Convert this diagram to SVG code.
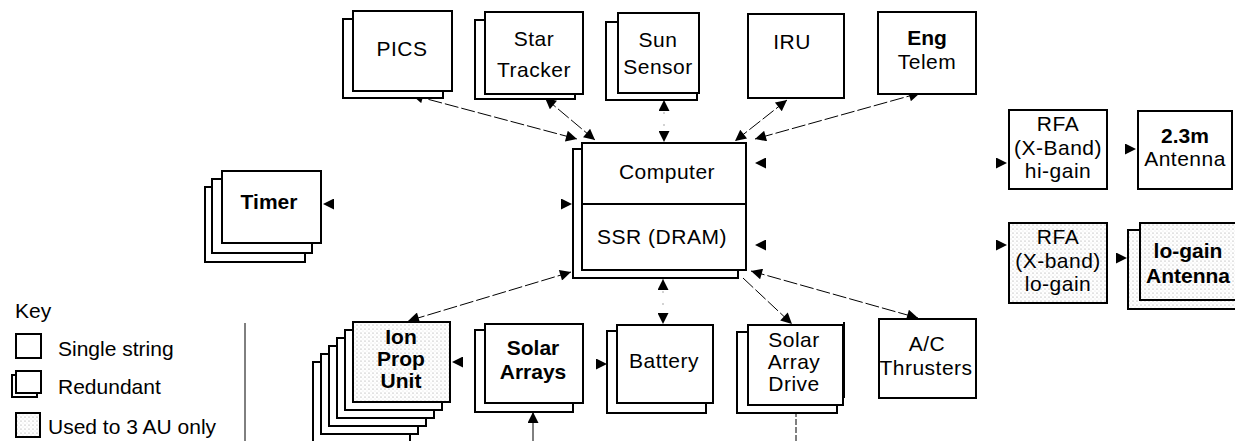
<svg xmlns="http://www.w3.org/2000/svg" width="1235" height="441" viewBox="0 0 1235 441">
<style>
.box{fill:#fff;stroke:#000;stroke-width:2}
.sh{fill:url(#stip);stroke:#000;stroke-width:2}
.t{font-family:"Liberation Sans",Arial,sans-serif;font-size:21px;text-anchor:middle;fill:#000;letter-spacing:0.5px}
.b{font-weight:bold;letter-spacing:0}
.k{font-family:"Liberation Sans",Arial,sans-serif;font-size:21px;fill:#000}
.c{fill:none;stroke:#000;stroke-width:1;stroke-dasharray:14 3}
.f{fill:none;stroke:#000;stroke-width:1;stroke-opacity:0.35;stroke-dasharray:2 10}
.n{fill:none;stroke:none}
.ln{fill:none;stroke:#000;stroke-width:1}
</style>
<defs>
<pattern id="stip" width="4" height="4" patternUnits="userSpaceOnUse">
<rect width="4" height="4" fill="#fff"/>
<circle cx="1" cy="1" r="0.6" fill="#999"/>
<circle cx="3" cy="3" r="0.4" fill="#bbb"/>
</pattern>
<marker id="ah" viewBox="0 0 10 10" refX="10" refY="5" markerWidth="14" markerHeight="11" markerUnits="userSpaceOnUse" orient="auto-start-reverse">
<path d="M0,0 L10,5 L0,10 z" fill="#000"/>
</marker>
</defs>
<rect width="1235" height="441" fill="#fff"/>

<g id="connectors">
<line class="c" x1="412" y1="95" x2="577" y2="139" marker-start="url(#ah)" marker-end="url(#ah)"/>
<line class="c" x1="545" y1="98" x2="595" y2="140" marker-start="url(#ah)" marker-end="url(#ah)"/>
<line class="f" x1="664" y1="100" x2="664" y2="142" marker-start="url(#ah)" marker-end="url(#ah)"/>
<line class="c" x1="787" y1="100" x2="735" y2="141" marker-start="url(#ah)" marker-end="url(#ah)"/>
<line class="c" x1="920" y1="93" x2="755" y2="139" marker-start="url(#ah)" marker-end="url(#ah)"/>
<line class="n" x1="755" y1="163" x2="1007" y2="163" marker-start="url(#ah)" marker-end="url(#ah)"/>
<line class="n" x1="755" y1="245" x2="1007" y2="245" marker-start="url(#ah)" marker-end="url(#ah)"/>
<line class="n" x1="323" y1="204" x2="572" y2="204" marker-start="url(#ah)" marker-end="url(#ah)"/>
<line class="n" x1="1108" y1="149" x2="1136" y2="149" marker-end="url(#ah)"/>
<line class="n" x1="1108" y1="258" x2="1127" y2="258" marker-end="url(#ah)"/>
<line class="c" x1="571" y1="272" x2="408" y2="321" marker-start="url(#ah)" marker-end="url(#ah)"/>
<line class="f" x1="663" y1="279" x2="663" y2="324" marker-start="url(#ah)" marker-end="url(#ah)"/>
<line class="c" x1="743" y1="278" x2="792" y2="324" marker-end="url(#ah)"/>
<line class="c" x1="751" y1="271" x2="918" y2="318" marker-start="url(#ah)" marker-end="url(#ah)"/>
<line class="n" x1="474" y1="362" x2="452" y2="362" marker-end="url(#ah)"/>
<line class="n" x1="596" y1="364" x2="607" y2="364" marker-end="url(#ah)"/>
<line class="ln" x1="533" y1="441" x2="533" y2="412" marker-end="url(#ah)"/>
<line class="ln" x1="796" y1="441" x2="796" y2="414" stroke-dasharray="6 2"/>
</g>

<g id="pics">
<rect class="box" x="343" y="19" width="100" height="79"/>
<rect class="box" x="353" y="11" width="99" height="80"/>
<text class="t" x="402" y="56">PICS</text>
</g>
<g id="star-tracker">
<rect class="box" x="475" y="20" width="100" height="79"/>
<rect class="box" x="485" y="12" width="98" height="82"/>
<text class="t" x="534" y="46">Star</text>
<text class="t" x="534" y="77">Tracker</text>
</g>
<g id="sun-sensor">
<rect class="box" x="606" y="22" width="91" height="78"/>
<rect class="box" x="618" y="13" width="81" height="80"/>
<text class="t" x="658" y="47">Sun</text>
<text class="t" x="658" y="74">Sensor</text>
</g>
<g id="iru">
<rect class="box" x="748" y="14" width="96" height="84"/>
<text class="t" x="792" y="49">IRU</text>
</g>
<g id="eng-telem">
<rect class="box" x="878" y="12" width="98" height="82"/>
<text class="t b" x="927" y="45">Eng</text>
<text class="t" x="927" y="69">Telem</text>
</g>
<g id="computer">
<rect class="box" x="573" y="149" width="165" height="129"/>
<rect class="box" x="582" y="143" width="164" height="127"/>
<line x1="582" y1="204" x2="746" y2="204" stroke="#000" stroke-width="2"/>
<text class="t" x="667" y="179">Computer</text>
<text class="t" x="662" y="244">SSR (DRAM)</text>
</g>
<g id="timer">
<rect class="box" x="205" y="187" width="100" height="75"/>
<rect class="box" x="212" y="179" width="100" height="74"/>
<rect class="box" x="222" y="171" width="99" height="72"/>
<text class="t b" x="269" y="209">Timer</text>
</g>
<g id="rfa-hi">
<rect class="box" x="1009" y="110" width="98" height="79"/>
<text class="t" x="1058" y="131">RFA</text>
<text class="t" x="1058" y="155">(X-Band)</text>
<text class="t" x="1058" y="178">hi-gain</text>
</g>
<g id="antenna-hi">
<rect class="box" x="1138" y="111" width="94" height="78"/>
<text class="t b" x="1185" y="143">2.3m</text>
<text class="t" x="1185" y="166">Antenna</text>
</g>
<g id="rfa-lo">
<rect class="sh" x="1009" y="223" width="98" height="80"/>
<text class="t" x="1058" y="244">RFA</text>
<text class="t" x="1058" y="268">(X-band)</text>
<text class="t" x="1058" y="291">lo-gain</text>
</g>
<g id="antenna-lo">
<rect class="sh" x="1128" y="230" width="110" height="79"/>
<rect class="sh" x="1140" y="223" width="98" height="77"/>
<text class="t b" x="1188" y="258">lo-gain</text>
<text class="t b" x="1188" y="283">Antenna</text>
</g>
<g id="ion-prop-unit">
<rect class="box" x="313" y="362" width="97" height="80"/>
<rect class="box" x="321" y="354" width="97" height="80"/>
<rect class="box" x="329" y="346" width="97" height="80"/>
<rect class="box" x="337" y="338" width="97" height="80"/>
<rect class="box" x="345" y="330" width="97" height="80"/>
<rect class="sh" x="353" y="322" width="97" height="80"/>
<text class="t b" x="401" y="344">Ion</text>
<text class="t b" x="401" y="366">Prop</text>
<text class="t b" x="401" y="388">Unit</text>
</g>
<g id="solar-arrays">
<rect class="box" x="475" y="330" width="98" height="82"/>
<rect class="box" x="485" y="324" width="98" height="79"/>
<text class="t b" x="533" y="355">Solar</text>
<text class="t b" x="533" y="379">Arrays</text>
</g>
<g id="battery">
<rect class="box" x="607" y="331" width="99" height="82"/>
<rect class="box" x="617" y="325" width="96" height="78"/>
<text class="t" x="664" y="368">Battery</text>
</g>
<g id="solar-array-drive">
<rect class="box" x="737" y="332" width="100" height="81"/>
<rect class="box" x="748" y="325" width="95" height="80"/>
<line x1="844" y1="322" x2="844" y2="398" stroke="#000" stroke-width="2"/>
<text class="t" x="794" y="347">Solar</text>
<text class="t" x="794" y="369">Array</text>
<text class="t" x="794" y="391">Drive</text>
</g>
<g id="ac-thrusters">
<rect class="box" x="879" y="319" width="97" height="79"/>
<text class="t" x="927" y="351">A/C</text>
<text class="t" x="926" y="375">Thrusters</text>
</g>
<g id="key">
<text class="k" x="15" y="318">Key</text>
<rect class="box" x="16" y="334" width="25" height="24"/>
<text class="k" x="58" y="356">Single string</text>
<rect class="box" x="12" y="375" width="25" height="22"/>
<rect class="box" x="16" y="371" width="25" height="22"/>
<text class="k" x="58" y="394">Redundant</text>
<rect class="sh" x="16" y="413" width="24" height="24"/>
<text class="k" x="48" y="434">Used to 3 AU only</text>
<line x1="245" y1="323" x2="245" y2="441" stroke="#000" stroke-width="1"/>
</g>
</svg>
